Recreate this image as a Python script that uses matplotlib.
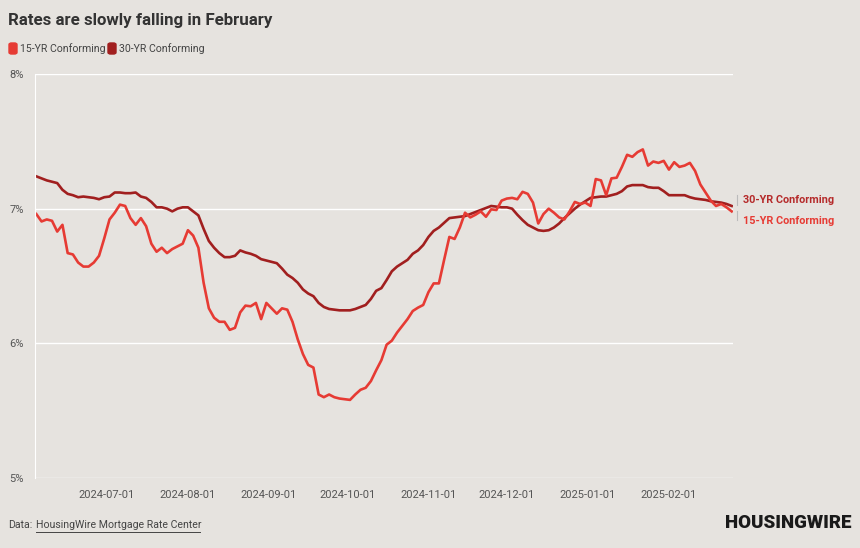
import pandas as pd
import matplotlib.pyplot as plt
import matplotlib.dates as mdates
from matplotlib.patches import FancyBboxPatch

# data: rates every 2 days
start_date = "2024-06-04"
rates_15yr = [
    6.96, 6.905, 6.92, 6.91, 6.83, 6.88, 6.67, 6.66, 6.60, 6.57,
    6.57, 6.60, 6.65, 6.78, 6.92, 6.97, 7.03, 7.02, 6.93, 6.88,
    6.93, 6.87, 6.74, 6.68, 6.71, 6.67, 6.70, 6.72, 6.74, 6.84,
    6.80, 6.71, 6.45, 6.26, 6.19, 6.16, 6.16, 6.10, 6.115, 6.23,
    6.28, 6.275, 6.30, 6.18, 6.30, 6.26, 6.22, 6.26, 6.25, 6.16,
    6.03, 5.92, 5.84, 5.82, 5.62, 5.60, 5.62, 5.60, 5.59, 5.585,
    5.58, 5.62, 5.655, 5.67, 5.72, 5.80, 5.875, 5.99, 6.02, 6.08,
    6.13, 6.18, 6.24, 6.265, 6.285, 6.38, 6.445, 6.445, 6.62, 6.79,
    6.775, 6.86, 6.97, 6.935, 6.955, 6.98, 6.94, 6.995, 6.99, 7.06,
    7.075, 7.08, 7.07, 7.125, 7.11, 7.045, 6.89, 6.96, 7.00, 6.97,
    6.935, 6.92, 6.98, 7.05, 7.035, 7.045, 7.02, 7.22, 7.21, 7.10,
    7.225, 7.23, 7.31, 7.40, 7.385, 7.42, 7.44, 7.32, 7.35, 7.34,
    7.355, 7.29, 7.345, 7.31, 7.32, 7.34, 7.28, 7.18, 7.12, 7.06,
    7.02, 7.035, 7.01, 6.98,
]
rates_30yr = [
    7.24, 7.225, 7.21, 7.20, 7.19, 7.14, 7.11, 7.10, 7.085, 7.09,
    7.085, 7.08, 7.07, 7.085, 7.09, 7.12, 7.12, 7.115, 7.115, 7.12,
    7.09, 7.08, 7.05, 7.01, 7.01, 7.00, 6.98, 7.00, 7.01, 7.01,
    6.98, 6.95, 6.85, 6.76, 6.71, 6.67, 6.64, 6.64, 6.65, 6.69,
    6.675, 6.665, 6.65, 6.625, 6.615, 6.605, 6.595, 6.555, 6.51, 6.485,
    6.45, 6.40, 6.37, 6.35, 6.30, 6.27, 6.255, 6.25, 6.245, 6.245,
    6.245, 6.255, 6.27, 6.285, 6.33, 6.39, 6.41, 6.47, 6.535, 6.57,
    6.595, 6.62, 6.665, 6.69, 6.73, 6.79, 6.835, 6.86, 6.895, 6.93,
    6.935, 6.94, 6.945, 6.96, 6.975, 6.99, 7.005, 7.02, 7.015, 7.01,
    7.01, 7.00, 6.955, 6.915, 6.88, 6.86, 6.84, 6.835, 6.84, 6.86,
    6.89, 6.93, 6.965, 7.00, 7.03, 7.055, 7.08, 7.085, 7.09, 7.09,
    7.10, 7.11, 7.13, 7.165, 7.175, 7.175, 7.175, 7.16, 7.155, 7.155,
    7.13, 7.10, 7.10, 7.10, 7.10, 7.085, 7.075, 7.07, 7.065, 7.055,
    7.05, 7.045, 7.035, 7.02,
]
dates = pd.date_range(start_date, periods=len(rates_15yr), freq="2D")
tick_dates = pd.to_datetime(["2024-07-01", "2024-08-01", "2024-09-01", "2024-10-01",
                             "2024-11-01", "2024-12-01", "2025-01-01", "2025-02-01"])
y_ticks = [5, 6, 7, 8]

bg = "#e6e3df"
red15 = "#e63b34"
red30 = "#a11f1f"
plt.rcParams["font.family"] = ["Roboto", "DejaVu Sans"]

fig = plt.figure(figsize=(8.6, 5.48), dpi=100, facecolor=bg)
ax = fig.add_axes([35/860, 1-478/548, 698/860, 404/548], facecolor=bg)

ax.plot(dates, rates_30yr, color=red30, lw=1.9, solid_joinstyle="round")
ax.plot(dates, rates_15yr, color=red15, lw=1.9, solid_joinstyle="round")

ax.set_ylim(5, 8)
ax.set_yticks(y_ticks)
ax.set_yticklabels([f"{v}%" for v in y_ticks])
ax.set_xlim(pd.Timestamp("2024-06-03 12:00"), pd.Timestamp("2025-02-25 12:00"))
ax.set_xticks(tick_dates)
ax.xaxis.set_major_formatter(mdates.DateFormatter("%Y-%m-%d"))
ax.grid(axis="y", color="white", lw=1)
ax.set_axisbelow(True)
for s in ["top", "right", "bottom"]:
    ax.spines[s].set_visible(False)
ax.spines["left"].set_color("white")
ax.tick_params(length=0, colors="#555555", labelsize=8)
ax.tick_params(axis="y", pad=8)
ax.tick_params(axis="x", pad=9)

# end labels
ax.annotate("30-YR Conforming", xy=(1.0, 7.065), xycoords=("axes fraction", "data"),
            xytext=(7, 0), textcoords="offset points", va="center", ha="left",
            color="#b52a2a", fontsize=7.8, fontweight="bold", annotation_clip=False)
ax.annotate("15-YR Conforming", xy=(1.0, 6.91), xycoords=("axes fraction", "data"),
            xytext=(7, 0), textcoords="offset points", va="center", ha="left",
            color=red15, fontsize=7.8, fontweight="bold", annotation_clip=False)
fig.add_artist(plt.Line2D([737/860, 737/860], [1-195/548, 1-205/548], color="#bbbbbb", lw=0.8))
fig.add_artist(plt.Line2D([737/860, 737/860], [1-211/548, 1-220/548], color="#bbbbbb", lw=0.8))

# title and legend
fig.text(8/860, 1-20/548, "Rates are slowly falling in February", fontsize=12.2,
         fontweight="bold", color="#333333", va="center", ha="left")
for xl, col, lab in [(9, red15, "15-YR Conforming"), (108, red30, "30-YR Conforming")]:
    fig.add_artist(FancyBboxPatch((xl/860, 1-54/548), 8/860, 11/548,
                                  boxstyle="round,pad=0,rounding_size=0.003",
                                  transform=fig.transFigure, color=col))
    fig.text((xl+11)/860, 1-48.5/548, lab, fontsize=7.6, color="#444444", va="center", ha="left")

# footer
fig.text(8/860, 1-525/548, "Data:", fontsize=7.6, color="#444444", va="center", ha="left")
fig.text(36/860, 1-525/548, "HousingWire Mortgage Rate Center", fontsize=7.6, color="#444444",
         va="center", ha="left")
fig.add_artist(plt.Line2D([36/860, 200/860], [1-532/548, 1-532/548], color="#444444", lw=0.7))
fig.text(852/860, 1-523/548, "HOUSINGWIRE", fontsize=13.5, fontweight="black", color="#1a1a1a",
         va="center", ha="right")

fig.savefig("out.png", dpi=100, facecolor=bg)
